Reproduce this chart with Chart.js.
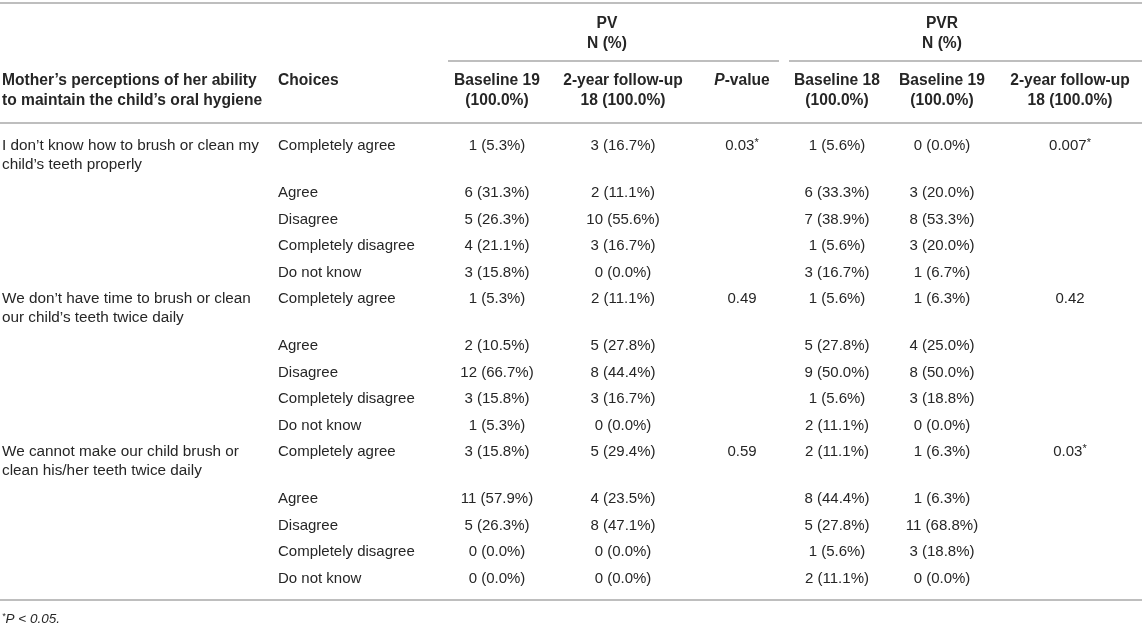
<!DOCTYPE html>
<html>
<head>
<meta charset="utf-8">
<script src="https://cdn.jsdelivr.net/npm/chart.js@4.4.1/dist/chart.umd.min.js"></script>
<style>
  html, body { margin: 0; padding: 0; background: #fff; }
  #wrap { width: 1142px; height: 624px; position: relative; }
</style>
</head>
<body>
<div id="wrap"><canvas id="tabla"></canvas></div>
<script>
// Datos de la tabla

const questions = [
  ["I don\u2019t know how to brush or clean my", "child\u2019s teeth properly"],
  ["We don\u2019t have time to brush or clean", "our child\u2019s teeth twice daily"],
  ["We cannot make our child brush or", "clean his/her teeth twice daily"]
];
const choices = ["Completely agree", "Agree", "Disagree", "Completely disagree", "Do not know"];

const pvBaselineN = [1, 6, 5, 4, 3, 1, 2, 12, 3, 1, 3, 11, 5, 0, 0];
const pvBaselinePct = [5.3, 31.3, 26.3, 21.1, 15.8, 5.3, 10.5, 66.7, 15.8, 5.3, 15.8, 57.9, 26.3, 0.0, 0.0];
const pvFollowN = [3, 2, 10, 3, 0, 2, 5, 8, 3, 0, 5, 4, 8, 0, 0];
const pvFollowPct = [16.7, 11.1, 55.6, 16.7, 0.0, 11.1, 27.8, 44.4, 16.7, 0.0, 29.4, 23.5, 47.1, 0.0, 0.0];
const pvPValues = ["0.03*", "0.49", "0.59"];

const pvrBaseline18N = [1, 6, 7, 1, 3, 1, 5, 9, 1, 2, 2, 8, 5, 1, 2];
const pvrBaseline18Pct = [5.6, 33.3, 38.9, 5.6, 16.7, 5.6, 27.8, 50.0, 5.6, 11.1, 11.1, 44.4, 27.8, 5.6, 11.1];
const pvrBaseline19N = [0, 3, 8, 3, 1, 1, 4, 8, 3, 0, 1, 1, 11, 3, 0];
const pvrBaseline19Pct = [0.0, 20.0, 53.3, 20.0, 6.7, 6.3, 25.0, 50.0, 18.8, 0.0, 6.3, 6.3, 68.8, 18.8, 0.0];
const pvrPValues = ["0.007*", "0.42", "0.03*"];

const groupHeaders = ["PV", "PVR"];
const columnHeaders = [
  ["Baseline 19", "(100.0%)"],
  ["2-year follow-up", "18 (100.0%)"],
  ["P-value", ""],
  ["Baseline 18", "(100.0%)"],
  ["Baseline 19", "(100.0%)"],
  ["2-year follow-up", "18 (100.0%)"]
];
const footnote = "*P < 0.05.";

// Layout (posiciones en unidades de la escala, 1 unidad = 1 px)
const W = 1142, H = 624;
const colLeft = 2, colChoices = 278;
const colCenters = [497, 623, 742, 837, 942, 1070];
const groupCenters = [607, 942];
const firstRowY = 146;
const textColor = "#262626";
const lineColor = "#a8a8a8";
const FONT = "'Liberation Sans', Arial, Helvetica, sans-serif";
const BODY = 15, HEAD = 15.6;

// posiciones verticales de cada fila
const rowY = [];
for (let i = 0; i < choices.length * questions.length; i++) {
  if (i === 0) rowY.push(firstRowY);
  else rowY.push(rowY[i - 1] + (i % 5 === 1 ? 47 : 26.5));
}

function fmt(n, p) {
  return n + " (" + p.toFixed(1) + "%)";
}

function cellPoints(col, values) {
  return values.map((v, i) => ({ x: colCenters[col], y: rowY[i], t: v }));
}

const pValuePoints = (col, vals) =>
  vals.map((v, g) => ({ x: colCenters[col], y: rowY[g * 5], t: v }));

const datasets = [
  { label: "choices", data: rowY.map((y, i) => ({ x: colChoices, y: y, t: choices[i % 5] })), align: "left" },
  { label: "pvBase", data: cellPoints(0, pvBaselineN.map((n, i) => fmt(n, pvBaselinePct[i]))) },
  { label: "pvFollow", data: cellPoints(1, pvFollowN.map((n, i) => fmt(n, pvFollowPct[i]))) },
  { label: "pvP", data: pValuePoints(2, pvPValues) },
  { label: "pvrBase18", data: cellPoints(3, pvrBaseline18N.map((n, i) => fmt(n, pvrBaseline18Pct[i]))) },
  { label: "pvrBase19", data: cellPoints(4, pvrBaseline19N.map((n, i) => fmt(n, pvrBaseline19Pct[i]))) },
  { label: "pvrP", data: pValuePoints(5, pvrPValues) },
  { label: "questions", data: questions.map((q, g) => ({ x: colLeft, y: rowY[g * 5], t: q })), align: "left" }
].map((d) => Object.assign(d, { pointRadius: 0, pointHoverRadius: 0 }));

// dibuja texto con asterisco en superíndice
function drawText(ctx, text, x, y, align, size, weight, italic) {
  let star = false;
  let main = text;
  if (text.endsWith("*")) { star = true; main = text.slice(0, -1); }
  if (text.startsWith("*")) { star = "pre"; main = text.slice(1); }
  const f = (italic ? "italic " : "") + (weight || "normal") + " " + size + "px " + FONT;
  const fs = (italic ? "italic " : "") + "normal " + Math.round(size * 0.7) + "px " + FONT;
  ctx.font = f;
  const wMain = ctx.measureText(main).width;
  ctx.font = fs;
  const wStar = star ? ctx.measureText("*").width : 0;
  const total = wMain + wStar;
  let sx = align === "left" ? x : x - total / 2;
  ctx.textAlign = "left";
  ctx.textBaseline = "middle";
  if (star === "pre") {
    ctx.font = fs;
    ctx.fillText("*", sx, y - 3);
    sx += wStar;
  }
  ctx.font = f;
  ctx.fillText(main, sx, y);
  if (star === true) {
    ctx.font = fs;
    ctx.fillText("*", sx + wMain, y - 3);
  }
}

const tablePlugin = {
  id: "tablePlugin",
  afterDatasetsDraw(chart) {
    const ctx = chart.ctx;
    const xs = chart.scales.x, ys = chart.scales.y;
    const px = (v) => xs.getPixelForValue(v);
    const py = (v) => ys.getPixelForValue(v);
    ctx.save();

    // líneas horizontales
    ctx.strokeStyle = lineColor;
    ctx.lineWidth = 1.5;
    const hline = (x0, x1, y) => {
      ctx.beginPath();
      ctx.moveTo(px(x0), py(y));
      ctx.lineTo(px(x1), py(y));
      ctx.stroke();
    };
    hline(0, W, 3);
    hline(448, 779, 61);
    hline(789, W, 61);
    hline(0, W, 123);
    hline(0, W, 600);

    ctx.fillStyle = textColor;
    // encabezados de grupo
    groupHeaders.forEach((g, i) => {
      drawText(ctx, g, px(groupCenters[i]), py(24), "center", HEAD, "bold");
      drawText(ctx, "N (%)", px(groupCenters[i]), py(44), "center", HEAD, "bold");
    });

    // encabezados de columna
    drawText(ctx, "Mother\u2019s perceptions of her ability", px(colLeft), py(81), "left", HEAD, "bold");
    drawText(ctx, "to maintain the child\u2019s oral hygiene", px(colLeft), py(101), "left", HEAD, "bold");
    drawText(ctx, "Choices", px(colChoices), py(81), "left", HEAD, "bold");
    columnHeaders.forEach((h, i) => {
      const cx = px(colCenters[i]);
      if (h[0] === "P-value") {
        ctx.font = "italic bold " + HEAD + "px " + FONT;
        const wp = ctx.measureText("P").width;
        ctx.font = "bold " + HEAD + "px " + FONT;
        const wr = ctx.measureText("-value").width;
        const sx = cx - (wp + wr) / 2;
        drawText(ctx, "P", sx, py(81), "left", HEAD, "bold", true);
        drawText(ctx, "-value", sx + wp, py(81), "left", HEAD, "bold");
      } else {
        drawText(ctx, h[0], cx, py(81), "center", HEAD, "bold");
        drawText(ctx, h[1], cx, py(101), "center", HEAD, "bold");
      }
    });

    // celdas
    chart.data.datasets.forEach((ds, di) => {
      const meta = chart.getDatasetMeta(di);
      meta.data.forEach((pt, i) => {
        const t = ds.data[i].t;
        if (Array.isArray(t)) {
          t.forEach((line, k) => drawText(ctx, line, pt.x, pt.y + k * 19, ds.align || "center", 15.3));
        } else {
          drawText(ctx, t, pt.x, pt.y, ds.align || "center", BODY);
        }
      });
    });

    // nota al pie
    drawText(ctx, footnote, px(colLeft), py(619), "left", 13.5, "normal", true);
    ctx.restore();
  }
};

new Chart(document.getElementById("tabla"), {
  type: "scatter",
  data: { datasets },
  options: {
    responsive: true,
    maintainAspectRatio: false,
    animation: false,
    layout: { padding: 0 },
    plugins: { legend: { display: false }, tooltip: { enabled: false } },
    scales: {
      x: { type: "linear", min: 0, max: W, display: false },
      y: { type: "linear", min: 0, max: H, reverse: true, display: false }
    }
  },
  plugins: [tablePlugin]
});
</script>
</body>
</html>
